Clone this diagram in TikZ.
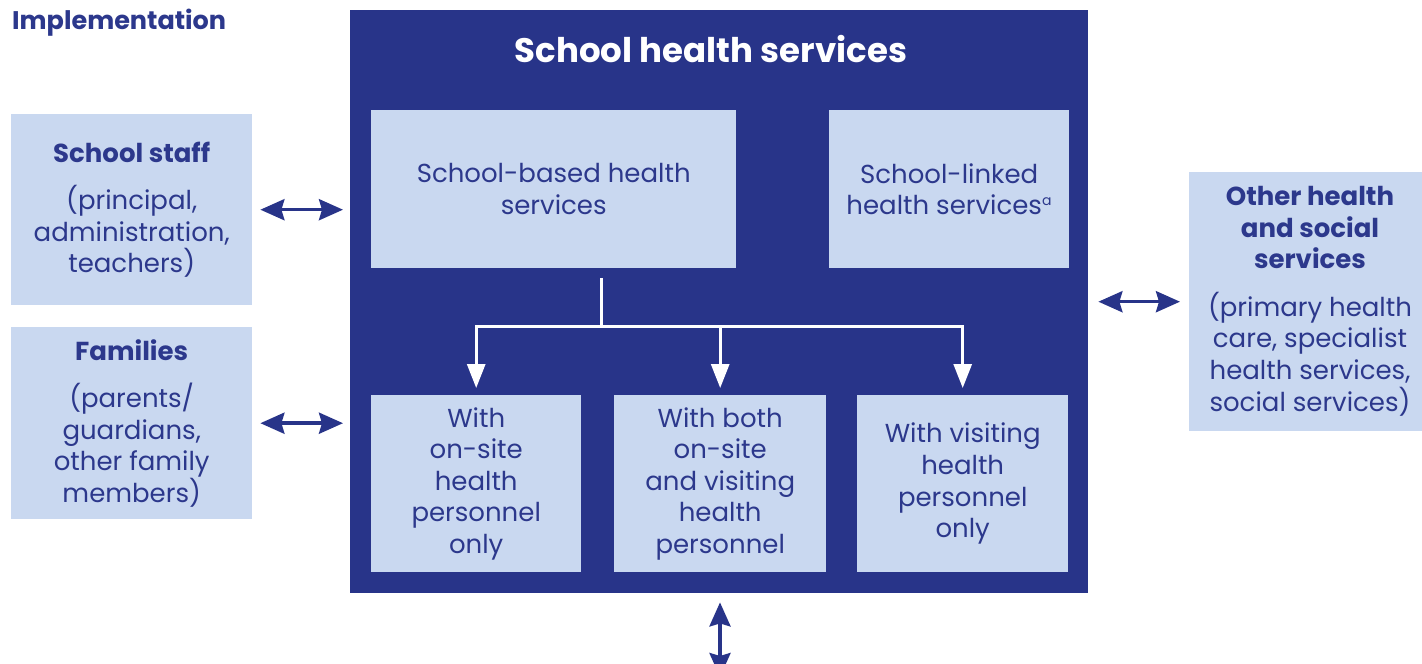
\documentclass[tikz,border=0pt]{standalone}
\usepackage{fontspec}
\setmainfont{Poppins}
\usetikzlibrary{arrows.meta,positioning,calc}
\definecolor{navy}{RGB}{40,52,137}
\definecolor{pale}{RGB}{201,216,240}
\definecolor{ink}{RGB}{44,56,140}
\begin{document}
\begin{tikzpicture}[x=1pt,y=-1pt,
  pbox/.style={fill=pale, draw=none, inner sep=0pt, align=center, text=ink,
    font=\fontsize{26}{31.6}\selectfont},
  dblarrow/.style={draw=navy, line width=3.5pt,
    {Stealth[length=24pt,width=21pt,inset=3pt]}-{Stealth[length=24pt,width=21pt,inset=3pt]}},
  wline/.style={draw=white, line width=3pt},
  warrow/.style={wline, -{Triangle[length=24pt,width=18pt]}, shorten >=7pt}
]
\clip (0,0) rectangle (1422,664);
\fill[white] (0,0) rectangle (1422,664);

\node[anchor=west, text=ink, font=\fontsize{25.5}{30}\selectfont\bfseries, inner sep=0pt] (impl) at (12,23) {Implementation};

% big box
\node[fill=navy, minimum width=738pt, minimum height=583pt, inner sep=0pt, anchor=north west] (big) at (350,10) {};
\node[text=white, font=\fontsize{34}{40}\selectfont\bfseries] (title) at (711,49) {School health services};

% upper boxes
\node[pbox, minimum width=365pt, minimum height=158pt, anchor=north west] (sb) at (371,110) {School-based health\\services};
\node[pbox, minimum width=240pt, minimum height=158pt, anchor=north west] (sl) at (829,110) {School-linked\\health services\textsuperscript{\fontsize{14}{14}\selectfont a}};

% lower boxes
\node[pbox, minimum width=210pt, minimum height=177pt, anchor=north west] (b1) at (371,395) {With\\on-site\\health\\personnel\\only};
\node[pbox, minimum width=212pt, minimum height=177pt, anchor=north west] (b2) at (614,395) {With both\\on-site\\and visiting\\health\\personnel};
\node[pbox, minimum width=211pt, minimum height=177pt, anchor=north west] (b3) at (857,395) {With visiting\\health\\personnel\\only};

% side boxes
\node[pbox, minimum width=241pt, minimum height=191pt, anchor=north west] (staff) at (11,114) {\textbf{School staff}\\[16pt](principal,\\administration,\\teachers)};
\node[pbox, minimum width=241pt, minimum height=192pt, anchor=north west] (fam) at (11,327) {\textbf{Families}\\[16pt](parents/\\guardians,\\other family\\members)};
\node[pbox, minimum width=245pt, minimum height=259pt, anchor=north west] (other) at (1189,172) {};
\node[align=center, text=ink, font=\fontsize{26}{31.6}\selectfont, inner sep=0pt] (othertxt) at (1310,301) {\textbf{Other health}\\\textbf{and social}\\\textbf{services}\\[16pt](primary health\\care, specialist\\health services,\\social services)};

% tree connector
\coordinate (stem) at (601,278);
\coordinate (bar) at (601,326);
\draw[wline] (stem) -- (bar);
\draw[warrow] (bar) -| (b1.north);
\draw[warrow] (bar) -| (b2.north);
\draw[warrow] (bar) -| (b3.north);

% outer arrows
\draw[dblarrow, shorten <=8pt, shorten >=7pt] (staff.east) -- (staff.east -| big.west);
\draw[dblarrow, shorten <=8pt, shorten >=7pt] (fam.east) -- (fam.east -| big.west);
\draw[dblarrow, shorten <=10pt, shorten >=9pt] (big.east |- other.west) -- (other.west);
\coordinate (below) at (720,677);
\draw[dblarrow, shorten <=9pt] (big.south -| below) -- (below);
\end{tikzpicture}
\end{document}
